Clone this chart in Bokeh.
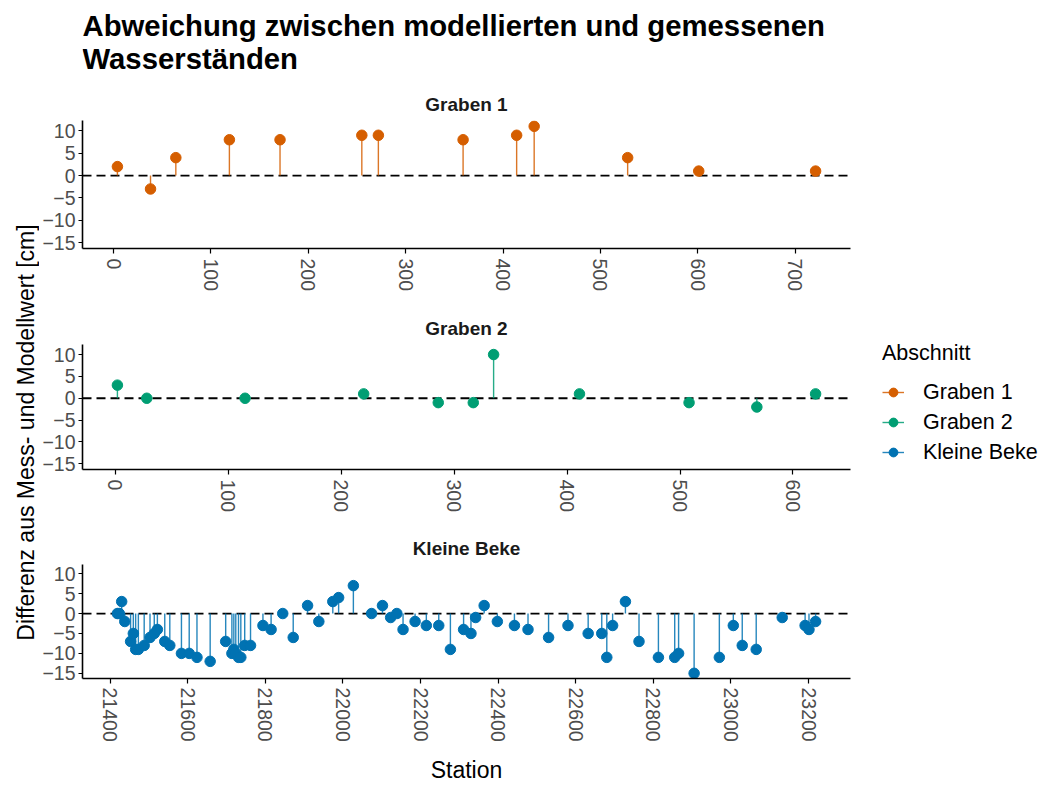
import math
from bokeh.plotting import figure
from bokeh.models import ColumnDataSource, Range1d, FixedTicker, Span, Legend, LegendItem
from bokeh.layouts import row, column
from bokeh.embed import file_html
from bokeh.resources import INLINE
from bokeh.core.properties import value

# ---------------- data ----------------
g1_station = [4, 38, 64, 119, 171, 255, 272, 359, 414, 432, 528, 601, 721]
g1_diff = [2, -3, 4, 8, 8, 9, 9, 8, 9, 11, 4, 1, 1]

g2_station = [2, 28, 115, 220, 286, 317, 335, 411, 508, 568, 620]
g2_diff = [3, 0, 0, 1, -1, -1, 10, 1, -1, -2, 1]

kb_station = [21419, 21424, 21430, 21438, 21453, 21460, 21466, 21473, 21488, 21503,
              21514, 21522, 21541, 21554, 21584, 21604, 21624, 21658, 21698, 21714,
              21719, 21724, 21731, 21737, 21747, 21762, 21794, 21815, 21845, 21872,
              21909, 21938, 21974, 21989, 22027, 22074, 22102, 22123, 22139, 22155,
              22186, 22215, 22247, 22277, 22311, 22330, 22342, 22364, 22398, 22442,
              22477, 22530, 22580, 22632, 22667, 22680, 22695, 22728, 22763, 22813,
              22855, 22865, 22905, 22970, 23006, 23029, 23065, 23132, 23191, 23201,
              23218]
kb_diff = [0, 0, 3, -2, -7, -5, -9, -9, -8, -6,
           -5, -4, -7, -8, -10, -10, -11, -12, -7, -10,
           -9, -10, -11, -11, -8, -8, -3, -4, 0, -6,
           2, -2, 3, 4, 7, 0, 2, -1, 0, -4,
           -2, -3, -3, -9, -4, -5, -1, 2, -2, -3,
           -4, -6, -3, -5, -5, -11, -3, 3, -7, -11,
           -11, -10, -15, -11, -3, -8, -9, -1, -3, -4,
           -2]

groups = ["Graben 1", "Graben 2", "Kleine Beke"]
colors = ["#D55E00", "#009E73", "#0072B2"]
g1_ticks = [0, 100, 200, 300, 400, 500, 600, 700]
g2_ticks = [0, 100, 200, 300, 400, 500, 600]
kb_ticks = [21400, 21600, 21800, 22000, 22200, 22400, 22600, 22800, 23000, 23200]
y_ticks = [-15, -10, -5, 0, 5, 10]

title_lines = ["Abweichung zwischen modellierten und gemessenen", "Wasserständen"]
y_label = "Differenz aus Mess- und Modellwert [cm]"
x_label = "Station"
legend_title = "Abschnitt"

FONT = "Liberation Sans"
all_y = g1_diff + g2_diff + kb_diff
ypad = 0.05 * (max(all_y) - min(all_y))
Y0, Y1 = min(all_y) - ypad, max(all_y) + ypad

TOTAL_H = 785
YL_W = 39
PANEL_W = 816
LEG_W = 190
FRAME_W = 768

sources = [ColumnDataSource(dict(x=s, y=d, z=[0] * len(s)))
           for s, d in ((g1_station, g1_diff), (g2_station, g2_diff), (kb_station, kb_diff))]


def panel(src, color, title, ticks, height, top, bottom, xlabel=None):
    xs = src.data["x"]
    pad = 0.05 * (max(xs) - min(xs))
    p = figure(width=PANEL_W, height=height,
               x_range=Range1d(min(xs) - pad, max(xs) + pad),
               y_range=Range1d(Y0, Y1),
               output_backend="svg", toolbar_location=None,
               min_border_left=43, min_border_right=5,
               min_border_top=top, min_border_bottom=bottom)
    p.add_layout(Span(location=0, dimension="width", line_color="black",
                      line_width=1.8, line_dash="9 5", level="underlay"))
    p.segment(x0="x", y0="z", x1="x", y1="y", source=src,
              line_color=color, line_width=1.4, line_alpha=0.85)
    p.scatter("x", "y", source=src, size=10.5, fill_color=color, line_color=color)
    p.title.text = title
    p.title.align = "center"
    p.title.text_font = FONT
    p.title.text_font_style = "bold"
    p.title.text_font_size = "19px"
    p.title.text_color = "#1a1a1a"
    p.title.standoff = 11
    p.xgrid.visible = False
    p.ygrid.visible = False
    p.outline_line_color = None
    p.xaxis.ticker = FixedTicker(ticks=ticks)
    p.yaxis.ticker = FixedTicker(ticks=y_ticks)
    p.xaxis.major_label_orientation = "vertical"
    for ax in (p.xaxis[0], p.yaxis[0]):
        ax.axis_line_color = "black"
        ax.axis_line_width = 1.6
        ax.major_tick_line_color = "black"
        ax.major_tick_line_width = 1.2
        ax.major_tick_out = 5
        ax.major_tick_in = 0
        ax.minor_tick_line_color = None
        ax.major_label_text_font = FONT
        ax.major_label_text_font_size = "19.5px"
        ax.major_label_text_color = "#4d4d4d"
    p.yaxis.major_tick_out = 4
    p.yaxis.major_label_standoff = 3
    p.xaxis.major_label_standoff = 5
    if xlabel:
        p.xaxis.axis_label = xlabel
        p.xaxis.axis_label_text_font = FONT
        p.xaxis.axis_label_text_font_size = "23px"
        p.xaxis.axis_label_text_font_style = "normal"
        p.xaxis.axis_label_text_color = "black"
        p.xaxis.major_label_standoff = 4
        p.xaxis.axis_label_standoff = 12
    return p


f1 = panel(sources[0], colors[0], groups[0], g1_ticks, 230, 40, 62)
f2 = panel(sources[1], colors[1], groups[1], g2_ticks, 220, 31, 61)
f3 = panel(sources[2], colors[2], groups[2], kb_ticks, 255, 32, 95, x_label)


def blank(width, height, xr, yr, **kw):
    b = figure(width=width, height=height, x_range=Range1d(*xr), y_range=Range1d(*yr),
               output_backend="svg", toolbar_location=None,
               x_axis_location=None, y_axis_location=None, **kw)
    b.grid.visible = False
    b.outline_line_color = None
    return b


# title figure (its frame is aligned with the panel frames in the column)
tf = blank(PANEL_W, 80, (0, FRAME_W), (0, 80), min_border=0)
tf.text(x=[0, 0], y=[55, 22], text=title_lines, text_font=value(FONT),
        text_font_style="bold", text_font_size="29.3px", text_color="black",
        text_baseline="middle", text_align="left")

# y label figure
yl = blank(YL_W, TOTAL_H, (0, YL_W), (0, TOTAL_H), min_border=0)
yl.text(x=[25.5], y=[TOTAL_H - 432], text=[y_label], angle=math.pi / 2, text_font=value(FONT),
        text_font_size="23px", text_color="black", text_align="center",
        text_baseline="middle")

# legend figure
lf = blank(LEG_W, TOTAL_H, (0, 1), (0, 1), min_border=0, min_border_left=27)
items = []
for g, c, src in zip(groups, colors, sources):
    sr = lf.segment(x0="x", y0="z", x1="x", y1="y", source=src, line_color=c,
                    line_width=1.4, line_alpha=0.85, visible=False)
    cr = lf.scatter("x", "y", source=src, size=10.5, fill_color=c, line_color=c, visible=False)
    items.append(LegendItem(label=g, renderers=[sr, cr]))
legend = Legend(items=items, title=legend_title, location=(0, 318))
legend.title_text_font = FONT
legend.title_text_font_size = "21.5px"
legend.title_text_font_style = "normal"
legend.title_text_color = "black"
legend.title_standoff = 11
legend.label_text_font = FONT
legend.label_text_font_size = "21.5px"
legend.label_text_color = "black"
legend.glyph_width = 22
legend.glyph_height = 30
legend.label_height = 30
legend.spacing = 0
legend.padding = 0
legend.margin = 0
legend.label_standoff = 19
legend.border_line_color = None
legend.background_fill_alpha = 0
legend.inactive_fill_alpha = 0
lf.add_layout(legend)

layout = row(yl, column(tf, f1, f2, f3), lf)
open("out.html", "w").write(file_html(layout, INLINE))
